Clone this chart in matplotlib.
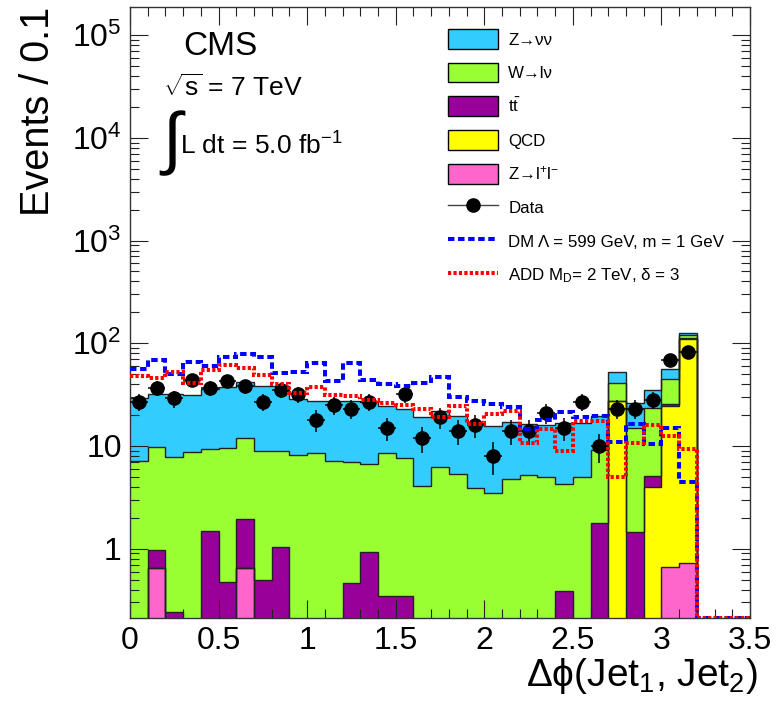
import matplotlib
matplotlib.use('Agg')
import matplotlib.pyplot as plt
from matplotlib.lines import Line2D
from matplotlib.patches import Patch
from matplotlib.ticker import MultipleLocator, LogLocator, FuncFormatter, NullFormatter
import numpy as np

plt.rcParams['font.family'] = ['Liberation Sans', 'DejaVu Sans']
plt.rcParams['mathtext.fontset'] = 'custom'
plt.rcParams['mathtext.rm'] = 'Liberation Sans'
plt.rcParams['mathtext.it'] = 'Liberation Sans:italic'
plt.rcParams['mathtext.bf'] = 'Liberation Sans:bold'

# 35 bins of 0.1 in delta phi between the two leading jets
edges = np.round(np.arange(36) * 0.1, 2)

# backgrounds, events per bin (stacked bottom to top)
zll = [0, 0.65, 0, 0, 0, 0, 0.65, 0, 0, 0, 0, 0, 0, 0, 0, 0, 0, 0, 0, 0,
       0, 0, 0, 0, 0, 0, 0, 0, 0, 0, 0.66, 0.73, 0, 0, 0]
qcd = [0, 0, 0, 0, 0, 0, 0, 0, 0, 0, 0, 0, 0, 0, 0, 0, 0, 0, 0, 0,
       0, 0, 0, 0, 0, 0, 0, 27.5, 0, 4.0, 24.0, 108.8, 0, 0, 0]
ttbar = [0, 0.32, 0.24, 0, 1.5, 0.47, 1.3, 0.5, 1.04, 0, 0, 0, 0.46, 0.92, 0.35, 0.35, 0, 0, 0, 0,
         0, 0, 0, 0, 0.39, 0, 1.78, 0, 1.47, 1.06, 1.0, 2.5, 0, 0, 0]
wlnu = [7.2, 8.7, 7.5, 8.7, 7.9, 9.1, 10.0, 8.4, 7.9, 8.2, 8.6, 7.2, 6.5, 5.8, 8.2, 7.3, 4.1, 6.3, 5.3, 3.9,
        3.5, 4.8, 5.2, 5.0, 3.9, 5.0, 7.3, 14.0, 13.5, 18.5, 19.3, 9.5, 0, 0, 0]
znunu = [22.2, 22.3, 24.3, 22.7, 26.5, 27.6, 29.6, 29.8, 29.8, 20.5, 19.1, 20.3, 20.5, 19.8, 15.8, 15.4, 15.0, 15.7, 14.1, 13.0,
         12.0, 12.2, 11.2, 11.1, 12.4, 11.8, 10.7, 11.0, 11.2, 11.2, 11.5, 4.5, 0, 0, 0]

# observed events
data = [27, 37, 29, 44, 37, 43, 38, 27, 35, 32, 18, 25, 23, 27, 15, 32, 12, 19, 14, 16,
        8, 14, 14, 21, 15, 27, 10, 23, 23, 28, 69, 82]

# signal expectations
dm = [56, 68.7, 50.2, 65, 60.5, 74, 78.6, 72.8, 51.4, 52, 64.2, 43.3, 64, 43.6, 40.2, 38.7, 40.7, 46.5, 29.8, 27.7,
      25.7, 24, 14.5, 17.9, 21.6, 19, 19.5, 11, 16.2, 10.5, 15.1, 4.45, 0, 0, 0]
add = [48.3, 45.9, 52, 41, 55.3, 61.8, 58, 49, 40.2, 32.8, 37.2, 31.6, 30.9, 28.3, 26.4, 25, 23, 19, 24.7, 16.4,
       20.3, 21.8, 10.6, 14.5, 9.0, 17.7, 17.5, 5.0, 10.6, 16, 12.6, 9.3, 0, 0, 0]

components = [
    (zll, '#ff66cc', 'Z→l$^{+}$l$^{-}$'),
    (qcd, '#ffff00', 'QCD'),
    (ttbar, '#990099', r't$\bar{\mathrm{t}}$'),
    (wlnu, '#99ff33', 'W→lν'),
    (znunu, '#33ccff', 'Z→νν'),
]

ymin, ymax = 0.213, 1.87e5

fig = plt.figure(figsize=(7.84, 7.05), dpi=100)
ax = fig.add_axes([130 / 784, 1 - 617.7 / 705, 620 / 784, 610.5 / 705])
ax.set_yscale('log')

lower = np.zeros(35)
for vals, col, lab in components:
    upper = lower + np.array(vals)
    ax.stairs(np.maximum(upper, 1e-3), edges, baseline=np.maximum(lower, 1e-3),
              fill=True, color=col, lw=0, zorder=1)
    ax.stairs(np.maximum(upper, 1e-3), edges, color='#222222', lw=1.0, baseline=None, zorder=1.5)
    lower = upper

# signal lines (empty bins sit on the bottom edge)
ax.stairs(np.maximum(dm, ymin), edges, baseline=None, color='#0000ff', lw=2.9,
          linestyle=(0, (1.6, 0.9)), zorder=4)
ax.stairs(np.maximum(add, ymin), edges, baseline=None, color='#ff0000', lw=2.9,
          linestyle=(0, (0.8, 0.55)), zorder=4)

centers = 0.5 * (edges[:-1] + edges[1:])
nd = len(data)
ax.errorbar(centers[:nd], data, yerr=np.sqrt(data), xerr=0.05, fmt='o', color='black',
            ms=9.5, elinewidth=1.1, capsize=0, zorder=3)

ax.set_xlim(0, 3.5)
ax.set_ylim(ymin, ymax)

ax.xaxis.set_major_locator(MultipleLocator(0.5))
ax.xaxis.set_minor_locator(MultipleLocator(0.1))
ax.xaxis.set_major_formatter(FuncFormatter(lambda v, p: '%g' % v))
ax.yaxis.set_major_locator(LogLocator(base=10, numticks=20))
ax.yaxis.set_minor_locator(LogLocator(base=10, subs=np.arange(2, 10), numticks=20))
ax.yaxis.set_minor_formatter(NullFormatter())


def ylab(v, p):
    if v < 5:
        return '1'
    if v < 50:
        return '10'
    return r'$10^{%d}$' % round(np.log10(v))


ax.yaxis.set_major_formatter(FuncFormatter(ylab))
ax.tick_params(which='both', direction='in', top=True, right=True, width=0.8, color='#222222')
ax.tick_params(which='major', length=13, labelsize=23, pad=6)
ax.tick_params(which='minor', length=6.5)
for s in ax.spines.values():
    s.set_linewidth(1.0)
    s.set_color('#333333')

ax.set_ylabel('Events / 0.1', fontsize=28.5, ha='right', y=1.0)
ax.yaxis.set_label_coords(-0.118, 1.0)
ax.set_xlabel('Δϕ(Jet$_{1}$, Jet$_{2}$)', fontsize=28, ha='right', x=1.0)
ax.xaxis.set_label_coords(1.012, -0.062)

ax.text(0.0855, 0.9217, 'CMS', transform=ax.transAxes, fontsize=24, va='baseline')
ax.text(0.0532, 0.8546, r'$\sqrt{\mathrm{s}}$ = 7 TeV', transform=ax.transAxes, fontsize=19, va='baseline')
ax.text(0.052, 0.7767, '∫', transform=ax.transAxes, fontsize=50, va='center')
ax.text(0.0806, 0.7579, 'L dt = 5.0 fb$^{-1}$', transform=ax.transAxes, fontsize=19, va='baseline')

handles = [Patch(facecolor=c, edgecolor='black', lw=1) for _, c, _ in components[::-1]]
labels = [l for _, _, l in components[::-1]]
handles += [
    Line2D([], [], color='#444444', lw=1, marker='o', ms=9.5, mfc='black', mec='black'),
    Line2D([], [], color='#0000ff', lw=2.9, linestyle=(0, (1.6, 0.9))),
    Line2D([], [], color='#ff0000', lw=2.9, linestyle=(0, (0.8, 0.55))),
]
labels += ['Data', 'DM Λ = 599 GeV, m = 1 GeV', r'ADD M$_{\mathrm{D}}$= 2 TeV, δ = 3']
ax.legend(handles, labels, loc='upper left', bbox_to_anchor=(0.513, 0.9643), frameon=False,
          fontsize=12.2, handlelength=2.95, handleheight=1.42, labelspacing=0.82,
          handletextpad=0.6, borderpad=0, borderaxespad=0)

fig.savefig('out.png', dpi=100)
